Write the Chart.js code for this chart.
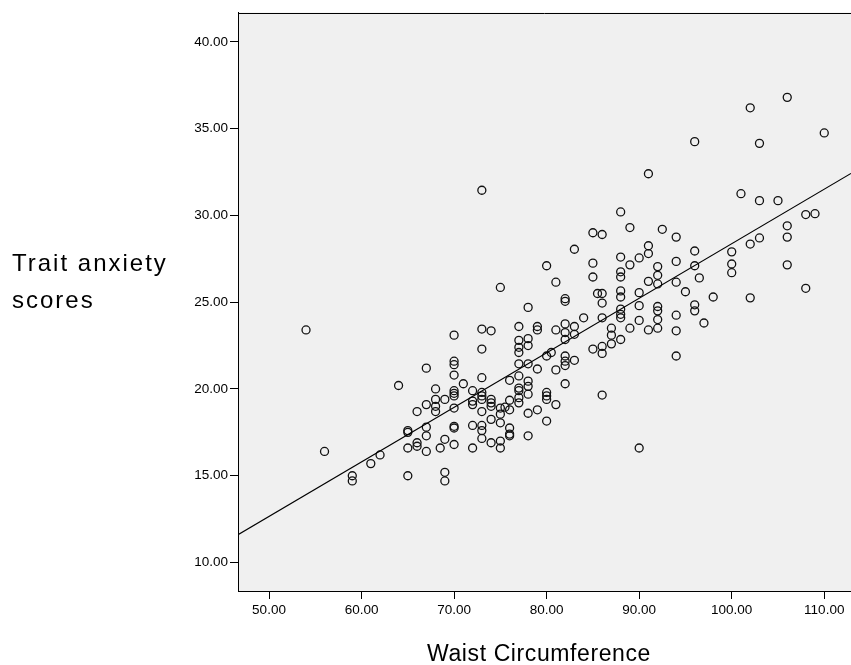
<!DOCTYPE html>
<html lang="en">
<head>
  <meta charset="UTF-8">
  <title>Waist Circumference vs Trait anxiety scores</title>
  <script src="https://cdn.jsdelivr.net/npm/chart.js"></script>
  <style>
    body {
      margin: 0;
      background: #ffffff;
      font-family: Arial, "Liberation Sans", sans-serif;
    }

    #wrap {
      position: relative;
      width: 851px;
      height: 665px;
      overflow: hidden;
    }

    canvas {
      position: absolute;
      left: 0;
      top: 0;
    }

    .axis-title {
      position: absolute;
      color: #000;
      white-space: nowrap;
    }

    #y-title {
      left: 12px;
      top: 245px;
      font-size: 24px;
      letter-spacing: 2px;
      line-height: 36.6px;
    }

    #x-title {
      left: 427px;
      top: 642px;
      font-size: 23px;
      letter-spacing: 0.6px;
      line-height: 1;
    }
  </style>
</head>
<body>

  <div id="wrap">
    <canvas id="scatter" width="851" height="665"></canvas>
    <div class="axis-title" id="y-title">Trait anxiety<br>scores</div>
    <div class="axis-title" id="x-title">Waist Circumference</div>
  </div>

  <script>
    // one entry per subject: waist[i] goes with anxiety[i]
    const waist = [
      54, 56, 59, 59, 61, 62, 64,
      65, 65, 65, 65,
      66, 66, 66,
      67, 67, 67, 67, 67,
      68, 68, 68, 68, 68.5,
      69, 69, 69, 69,
      70, 70, 70, 70, 70, 70, 70, 70, 70, 70, 70,
      71,
      72, 72, 72, 72, 72,
      73, 73, 73, 73, 73, 73, 73, 73, 73, 73, 73,
      74, 74, 74, 74, 74, 74,
      75, 75, 75, 75, 75, 75, 75.5,
      76, 76, 76, 76, 76, 76,
      77, 77, 77, 77, 77, 77, 77, 77, 77, 77,
      78, 78, 78, 78, 78, 78, 78, 78, 78,
      79, 79, 79, 79,
      80, 80, 80, 80, 80, 80, 80.5,
      81, 81, 81, 81,
      82, 82, 82, 82, 82, 82, 82, 82, 82,
      83, 83, 83, 83,
      84,
      85, 85, 85, 85, 85.5,
      86, 86, 86, 86, 86, 86, 86,
      87, 87, 87,
      88, 88, 88, 88, 88, 88, 88, 88, 88, 88,
      89, 89, 89,
      90, 90, 90, 90, 90,
      91, 91, 91, 91, 91,
      92, 92, 92, 92, 92, 92, 92, 92.5,
      94, 94, 94, 94, 94, 94,
      95,
      96, 96, 96, 96, 96, 96.5,
      97, 98,
      100, 100, 100,
      101,
      102, 102, 102,
      103, 103, 103,
      105,
      106, 106, 106, 106,
      108, 108,
      109, 110
    ];

    const anxiety = [
      23.4, 16.4, 15.0, 14.7, 15.7, 16.2, 20.2,
      17.6, 17.5, 16.6, 15.0,
      18.7, 16.9, 16.7,
      21.2, 19.1, 17.8, 17.3, 16.4,
      20.0, 19.4, 19.0, 18.7, 16.6,
      19.4, 17.1, 15.2, 14.7,
      23.1, 21.6, 21.4, 20.8, 19.9, 19.75, 19.6, 18.9, 17.85, 17.75, 16.8,
      20.3,
      19.9, 19.3, 19.1, 17.9, 16.6,
      31.45, 23.45, 22.3, 20.65, 19.8, 19.6, 19.4, 18.7, 17.9, 17.6, 17.15,
      23.35, 19.4, 19.2, 19.0, 18.25, 16.9,
      25.85, 18.9, 18.55, 18.05, 17.0, 16.6, 18.95,
      20.5, 19.35, 18.8, 17.75, 17.4, 17.3,
      23.6, 22.8, 22.4, 22.1, 21.45, 20.75, 20.05, 19.9, 19.5, 19.2,
      24.7, 22.9, 22.5, 21.45, 20.45, 20.15, 19.7, 18.6, 17.3,
      23.6, 23.4, 21.15, 18.8,
      27.1, 21.9, 19.8, 19.6, 19.4, 18.15, 22.1,
      26.15, 23.4, 21.1, 19.1,
      25.2, 25.05, 23.75, 23.25, 22.85, 21.9, 21.6, 21.35, 20.3,
      28.05, 23.6, 23.15, 21.65,
      24.1,
      29.0, 27.25, 26.45, 22.3, 25.5,
      28.9, 25.5, 24.95, 24.1, 22.45, 22.05, 19.65,
      23.5, 23.1, 22.6,
      30.2, 27.6, 26.75, 26.45, 25.65, 25.3, 24.6, 24.3, 24.1, 22.85,
      29.3, 27.15, 23.5,
      27.55, 25.55, 24.8, 23.95, 16.6,
      32.4, 28.25, 27.8, 26.2, 23.4,
      27.05, 26.55, 26.05, 24.75, 24.5, 24.0, 23.5, 29.2,
      28.75, 27.35, 26.15, 24.25, 23.35, 21.9,
      25.6,
      34.25, 27.95, 27.1, 24.85, 24.5, 26.4,
      23.8, 25.3,
      27.9, 27.2, 26.7,
      31.25,
      36.2, 28.35, 25.25,
      34.15, 30.85, 28.7,
      30.85,
      36.8, 29.4, 28.75, 27.15,
      30.05, 25.8,
      30.1, 34.75
    ];

    // fit line, read at the two edges of the plot
    const fitX = [46.65, 112.89];
    const fitY = [11.6, 32.42];

    const xTicks = [50, 60, 70, 80, 90, 100, 110];
    const yTicks = [10, 15, 20, 25, 30, 35, 40];

    // grey plot area and the top edge of the frame
    const plotFrame = {
      id: 'plotFrame',
      beforeDraw(chart) {
        const { ctx, chartArea: a } = chart;
        ctx.save();
        ctx.fillStyle = '#f0f0f0';
        ctx.fillRect(a.left, a.top, a.right - a.left, a.bottom - a.top);
        ctx.restore();
      },
      afterDraw(chart) {
        const { ctx, chartArea: a } = chart;
        ctx.save();
        ctx.strokeStyle = '#000';
        ctx.lineWidth = 1;
        ctx.beginPath();
        ctx.moveTo(a.left, Math.round(a.top) + 0.5);
        ctx.lineTo(a.right, Math.round(a.top) + 0.5);
        ctx.stroke();
        ctx.restore();
      }
    };

    const tickFont = { family: 'Arial, "Liberation Sans", sans-serif', size: 13.5 };

    new Chart(document.getElementById('scatter'), {
      type: 'scatter',
      data: {
        datasets: [
          {
            type: 'line',
            data: fitX.map((x, i) => ({ x: x, y: fitY[i] })),
            borderColor: '#000',
            borderWidth: 1.2,
            pointRadius: 0,
            fill: false
          },
          {
            data: waist.map((w, i) => ({ x: w, y: anxiety[i] })),
            pointStyle: 'circle',
            pointRadius: 4,
            pointBorderWidth: 1.3,
            pointBorderColor: '#111',
            pointBackgroundColor: 'rgba(0,0,0,0)'
          }
        ]
      },
      options: {
        responsive: false,
        animation: false,
        devicePixelRatio: 1,
        layout: {
          autoPadding: false,
          padding: { top: 12.5, right: 0, bottom: 0, left: 0 }
        },
        plugins: {
          legend: { display: false },
          tooltip: { enabled: false }
        },
        scales: {
          x: {
            type: 'linear',
            min: 46.65,
            max: 112.89,
            afterBuildTicks: s => { s.ticks = xTicks.map(v => ({ value: v })); },
            afterFit: s => {
              s.height = 74;
              s.paddingLeft = 0;
              s.paddingRight = 0;
            },
            ticks: {
              color: '#000',
              font: tickFont,
              padding: 3,
              maxRotation: 0,
              callback: v => Number(v).toFixed(2)
            },
            grid: { drawOnChartArea: false, color: '#000', tickLength: 8 },
            border: { color: '#000', width: 1 }
          },
          y: {
            type: 'linear',
            min: 8.36,
            max: 41.69,
            afterBuildTicks: s => { s.ticks = yTicks.map(v => ({ value: v })); },
            afterFit: s => {
              s.width = 238;
              s.paddingTop = 0;
              s.paddingBottom = 0;
            },
            ticks: {
              color: '#000',
              font: tickFont,
              padding: 2,
              callback: v => Number(v).toFixed(2)
            },
            grid: { drawOnChartArea: false, color: '#000', tickLength: 8 },
            border: { color: '#000', width: 1 }
          }
        }
      },
      plugins: [plotFrame]
    });
  </script>

</body>
</html>
